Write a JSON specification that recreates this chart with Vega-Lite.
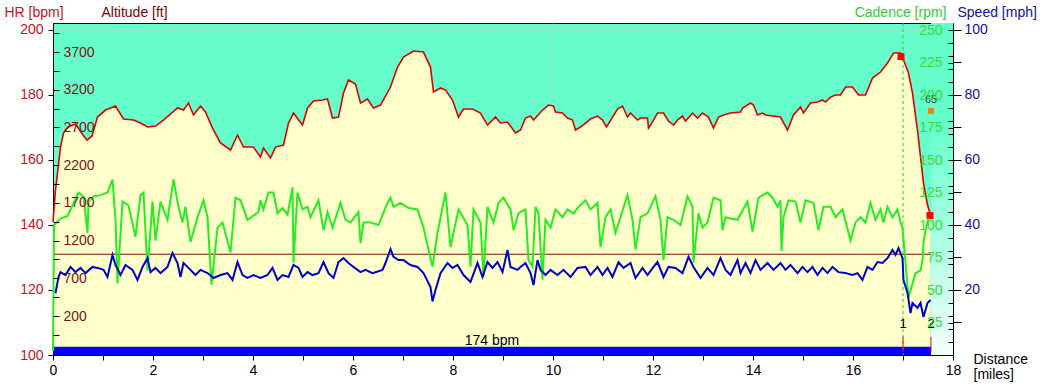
{
  "$schema": "https://vega.github.io/schema/vega-lite/v6.json",
  "width": 900,
  "height": 332,
  "autosize": "none",
  "padding": {"left": 53, "top": 23, "right": 91, "bottom": 31},
  "background": "#FFFFFF",
  "config": {
    "font": "Liberation Sans",
    "view": {"fill": "#66FFCC", "stroke": "#000000", "strokeWidth": 1},
    "axis": {
      "labelFont": "Liberation Sans", "titleFont": "Liberation Sans",
      "labelFontSize": 14, "titleFontSize": 14, "titleFontWeight": "normal",
      "tickColor": "#000000", "domainColor": "#000000", "labelColor": "#000000",
      "labelOverlap": false, "labelFlush": false, "grid": false
    }
  },
  "datasets": {
    "alt": [
      {"mile":0,"alt":1446},{"mile":0.05,"alt":1870},{"mile":0.15,"alt":2440},{"mile":0.21,"alt":2626},{"mile":0.3,"alt":2706},{"mile":0.45,"alt":2745},{"mile":0.6,"alt":2600},{"mile":0.68,"alt":2533},{"mile":0.78,"alt":2587},{"mile":0.89,"alt":2838},{"mile":1.05,"alt":2931},{"mile":1.25,"alt":2984},{"mile":1.41,"alt":2812},{"mile":1.61,"alt":2798},{"mile":1.75,"alt":2759},{"mile":1.89,"alt":2706},{"mile":2.05,"alt":2719},{"mile":2.21,"alt":2798},{"mile":2.49,"alt":2958},{"mile":2.61,"alt":2931},{"mile":2.71,"alt":3024},{"mile":2.81,"alt":2865},{"mile":2.95,"alt":2984},{"mile":3.05,"alt":2905},{"mile":3.19,"alt":2692},{"mile":3.35,"alt":2494},{"mile":3.55,"alt":2401},{"mile":3.69,"alt":2600},{"mile":3.81,"alt":2440},{"mile":4.01,"alt":2440},{"mile":4.15,"alt":2308},{"mile":4.21,"alt":2427},{"mile":4.35,"alt":2295},{"mile":4.45,"alt":2440},{"mile":4.61,"alt":2467},{"mile":4.71,"alt":2759},{"mile":4.81,"alt":2891},{"mile":4.99,"alt":2732},{"mile":5.09,"alt":2958},{"mile":5.21,"alt":3050},{"mile":5.39,"alt":3064},{"mile":5.49,"alt":3077},{"mile":5.59,"alt":2825},{"mile":5.71,"alt":2838},{"mile":5.81,"alt":3156},{"mile":5.91,"alt":3329},{"mile":6.05,"alt":3276},{"mile":6.15,"alt":3024},{"mile":6.29,"alt":3077},{"mile":6.41,"alt":2958},{"mile":6.55,"alt":2997},{"mile":6.75,"alt":3236},{"mile":6.89,"alt":3501},{"mile":7.01,"alt":3634},{"mile":7.21,"alt":3713},{"mile":7.41,"alt":3700},{"mile":7.55,"alt":3501},{"mile":7.61,"alt":3170},{"mile":7.75,"alt":3223},{"mile":7.85,"alt":3196},{"mile":7.99,"alt":3064},{"mile":8.11,"alt":2838},{"mile":8.21,"alt":2944},{"mile":8.39,"alt":2944},{"mile":8.55,"alt":2891},{"mile":8.69,"alt":2732},{"mile":8.85,"alt":2838},{"mile":8.95,"alt":2759},{"mile":9.09,"alt":2772},{"mile":9.25,"alt":2626},{"mile":9.35,"alt":2666},{"mile":9.45,"alt":2825},{"mile":9.55,"alt":2851},{"mile":9.61,"alt":2798},{"mile":9.79,"alt":2931},{"mile":9.91,"alt":2997},{"mile":10.01,"alt":2984},{"mile":10.05,"alt":2905},{"mile":10.19,"alt":2891},{"mile":10.29,"alt":2825},{"mile":10.39,"alt":2798},{"mile":10.45,"alt":2666},{"mile":10.55,"alt":2706},{"mile":10.75,"alt":2812},{"mile":10.89,"alt":2851},{"mile":10.99,"alt":2798},{"mile":11.07,"alt":2706},{"mile":11.29,"alt":2944},{"mile":11.39,"alt":2984},{"mile":11.49,"alt":2838},{"mile":11.55,"alt":2891},{"mile":11.69,"alt":2798},{"mile":11.75,"alt":2825},{"mile":11.89,"alt":2825},{"mile":11.91,"alt":2692},{"mile":12.01,"alt":2798},{"mile":12.09,"alt":2891},{"mile":12.21,"alt":2891},{"mile":12.31,"alt":2785},{"mile":12.41,"alt":2732},{"mile":12.49,"alt":2798},{"mile":12.59,"alt":2851},{"mile":12.65,"alt":2785},{"mile":12.79,"alt":2891},{"mile":12.89,"alt":2825},{"mile":12.99,"alt":2891},{"mile":13.11,"alt":2838},{"mile":13.21,"alt":2692},{"mile":13.31,"alt":2838},{"mile":13.41,"alt":2865},{"mile":13.55,"alt":2891},{"mile":13.75,"alt":2905},{"mile":13.79,"alt":2958},{"mile":13.95,"alt":3024},{"mile":14.01,"alt":2997},{"mile":14.09,"alt":2865},{"mile":14.19,"alt":2891},{"mile":14.25,"alt":2865},{"mile":14.55,"alt":2838},{"mile":14.69,"alt":2666},{"mile":14.81,"alt":2865},{"mile":14.95,"alt":2971},{"mile":15.01,"alt":2891},{"mile":15.15,"alt":3024},{"mile":15.29,"alt":3037},{"mile":15.39,"alt":3064},{"mile":15.45,"alt":3037},{"mile":15.55,"alt":3103},{"mile":15.65,"alt":3130},{"mile":15.75,"alt":3130},{"mile":15.85,"alt":3236},{"mile":15.99,"alt":3236},{"mile":16.11,"alt":3130},{"mile":16.25,"alt":3130},{"mile":16.39,"alt":3355},{"mile":16.55,"alt":3435},{"mile":16.69,"alt":3554},{"mile":16.81,"alt":3687},{"mile":16.95,"alt":3687},{"mile":17.05,"alt":3528},{"mile":17.11,"alt":3422},{"mile":17.19,"alt":3156},{"mile":17.29,"alt":2666},{"mile":17.35,"alt":2308},{"mile":17.41,"alt":1963},{"mile":17.49,"alt":1672},{"mile":17.55,"alt":1539}
    ],
    "cad": [
      {"mile":0,"cad":3},{"mile":0.02,"cad":100},{"mile":0.15,"cad":105},{"mile":0.29,"cad":107},{"mile":0.51,"cad":125},{"mile":0.61,"cad":122},{"mile":0.69,"cad":94},{"mile":0.71,"cad":118},{"mile":0.81,"cad":122},{"mile":0.95,"cad":123},{"mile":1.09,"cad":125},{"mile":1.19,"cad":135},{"mile":1.25,"cad":104},{"mile":1.29,"cad":55},{"mile":1.39,"cad":118},{"mile":1.51,"cad":115},{"mile":1.65,"cad":91},{"mile":1.75,"cad":123},{"mile":1.81,"cad":125},{"mile":1.89,"cad":65},{"mile":1.99,"cad":118},{"mile":2.05,"cad":88},{"mile":2.15,"cad":118},{"mile":2.29,"cad":104},{"mile":2.41,"cad":135},{"mile":2.51,"cad":114},{"mile":2.59,"cad":102},{"mile":2.65,"cad":114},{"mile":2.75,"cad":87},{"mile":2.89,"cad":106},{"mile":3.01,"cad":119},{"mile":3.09,"cad":106},{"mile":3.17,"cad":54},{"mile":3.29,"cad":98},{"mile":3.39,"cad":102},{"mile":3.55,"cad":79},{"mile":3.65,"cad":121},{"mile":3.75,"cad":119},{"mile":3.89,"cad":104},{"mile":4.11,"cad":110},{"mile":4.15,"cad":119},{"mile":4.21,"cad":112},{"mile":4.31,"cad":125},{"mile":4.41,"cad":125},{"mile":4.49,"cad":109},{"mile":4.59,"cad":113},{"mile":4.69,"cad":108},{"mile":4.79,"cad":129},{"mile":4.81,"cad":71},{"mile":4.89,"cad":125},{"mile":4.99,"cad":112},{"mile":5.09,"cad":114},{"mile":5.15,"cad":106},{"mile":5.31,"cad":119},{"mile":5.41,"cad":96},{"mile":5.49,"cad":110},{"mile":5.59,"cad":98},{"mile":5.75,"cad":117},{"mile":5.85,"cad":104},{"mile":5.95,"cad":102},{"mile":6.11,"cad":110},{"mile":6.15,"cad":86},{"mile":6.21,"cad":102},{"mile":6.35,"cad":102},{"mile":6.51,"cad":100},{"mile":6.69,"cad":117},{"mile":6.75,"cad":121},{"mile":6.81,"cad":114},{"mile":6.95,"cad":117},{"mile":7.11,"cad":113},{"mile":7.29,"cad":112},{"mile":7.41,"cad":98},{"mile":7.51,"cad":81},{"mile":7.59,"cad":68},{"mile":7.69,"cad":94},{"mile":7.85,"cad":125},{"mile":7.95,"cad":83},{"mile":8.11,"cad":112},{"mile":8.29,"cad":100},{"mile":8.35,"cad":68},{"mile":8.41,"cad":112},{"mile":8.55,"cad":102},{"mile":8.61,"cad":60},{"mile":8.69,"cad":114},{"mile":8.81,"cad":102},{"mile":8.91,"cad":117},{"mile":9.01,"cad":121},{"mile":9.15,"cad":112},{"mile":9.21,"cad":96},{"mile":9.31,"cad":109},{"mile":9.35,"cad":110},{"mile":9.45,"cad":112},{"mile":9.51,"cad":73},{"mile":9.59,"cad":68},{"mile":9.65,"cad":114},{"mile":9.71,"cad":109},{"mile":9.79,"cad":58},{"mile":9.85,"cad":104},{"mile":9.95,"cad":98},{"mile":10.05,"cad":112},{"mile":10.19,"cad":106},{"mile":10.29,"cad":112},{"mile":10.41,"cad":109},{"mile":10.51,"cad":114},{"mile":10.65,"cad":119},{"mile":10.75,"cad":112},{"mile":10.89,"cad":117},{"mile":10.95,"cad":83},{"mile":11.05,"cad":106},{"mile":11.15,"cad":112},{"mile":11.25,"cad":94},{"mile":11.35,"cad":106},{"mile":11.49,"cad":123},{"mile":11.59,"cad":104},{"mile":11.65,"cad":81},{"mile":11.75,"cad":106},{"mile":11.89,"cad":109},{"mile":12.05,"cad":122},{"mile":12.15,"cad":104},{"mile":12.21,"cad":73},{"mile":12.29,"cad":106},{"mile":12.41,"cad":104},{"mile":12.55,"cad":100},{"mile":12.69,"cad":122},{"mile":12.79,"cad":114},{"mile":12.81,"cad":71},{"mile":12.91,"cad":109},{"mile":12.99,"cad":98},{"mile":13.09,"cad":102},{"mile":13.21,"cad":121},{"mile":13.35,"cad":119},{"mile":13.39,"cad":96},{"mile":13.45,"cad":106},{"mile":13.55,"cad":105},{"mile":13.69,"cad":104},{"mile":13.89,"cad":118},{"mile":13.99,"cad":95},{"mile":14.11,"cad":121},{"mile":14.29,"cad":125},{"mile":14.39,"cad":121},{"mile":14.49,"cad":114},{"mile":14.55,"cad":119},{"mile":14.57,"cad":80},{"mile":14.61,"cad":106},{"mile":14.71,"cad":119},{"mile":14.85,"cad":118},{"mile":14.95,"cad":102},{"mile":15.05,"cad":119},{"mile":15.21,"cad":117},{"mile":15.31,"cad":96},{"mile":15.41,"cad":114},{"mile":15.55,"cad":114},{"mile":15.65,"cad":106},{"mile":15.79,"cad":112},{"mile":15.95,"cad":88},{"mile":16.05,"cad":102},{"mile":16.15,"cad":106},{"mile":16.25,"cad":102},{"mile":16.35,"cad":117},{"mile":16.45,"cad":104},{"mile":16.55,"cad":112},{"mile":16.61,"cad":102},{"mile":16.69,"cad":114},{"mile":16.79,"cad":106},{"mile":16.89,"cad":112},{"mile":16.95,"cad":102},{"mile":16.99,"cad":98},{"mile":17.11,"cad":44},{"mile":17.19,"cad":55},{"mile":17.25,"cad":63},{"mile":17.35,"cad":65},{"mile":17.39,"cad":73},{"mile":17.41,"cad":86},{"mile":17.45,"cad":96},{"mile":17.51,"cad":105}
    ],
    "spd": [
      {"mile":0.05,"spd":19},{"mile":0.11,"spd":24},{"mile":0.15,"spd":25.5},{"mile":0.25,"spd":24.6},{"mile":0.35,"spd":27.1},{"mile":0.45,"spd":25.5},{"mile":0.55,"spd":26.8},{"mile":0.65,"spd":25.2},{"mile":0.79,"spd":27.1},{"mile":0.89,"spd":26.8},{"mile":1.01,"spd":26.2},{"mile":1.09,"spd":24},{"mile":1.19,"spd":30.8},{"mile":1.25,"spd":27.7},{"mile":1.35,"spd":24.6},{"mile":1.45,"spd":27.7},{"mile":1.59,"spd":26.2},{"mile":1.69,"spd":23.1},{"mile":1.79,"spd":27.1},{"mile":1.89,"spd":29.8},{"mile":1.95,"spd":25.5},{"mile":2.05,"spd":26.8},{"mile":2.15,"spd":25.2},{"mile":2.29,"spd":27.1},{"mile":2.39,"spd":31.4},{"mile":2.49,"spd":28.3},{"mile":2.55,"spd":24},{"mile":2.61,"spd":28.3},{"mile":2.71,"spd":26.8},{"mile":2.85,"spd":24.6},{"mile":2.95,"spd":26.2},{"mile":3.09,"spd":25.2},{"mile":3.21,"spd":23.7},{"mile":3.35,"spd":24.6},{"mile":3.49,"spd":25.2},{"mile":3.59,"spd":23.1},{"mile":3.69,"spd":28.6},{"mile":3.79,"spd":24.6},{"mile":3.89,"spd":23.7},{"mile":4.01,"spd":24.6},{"mile":4.15,"spd":23.7},{"mile":4.29,"spd":24.6},{"mile":4.39,"spd":26.8},{"mile":4.49,"spd":23.1},{"mile":4.59,"spd":24.6},{"mile":4.71,"spd":24},{"mile":4.81,"spd":27.7},{"mile":4.91,"spd":26.8},{"mile":4.99,"spd":24},{"mile":5.09,"spd":25.5},{"mile":5.19,"spd":24.6},{"mile":5.31,"spd":25.2},{"mile":5.41,"spd":28.6},{"mile":5.51,"spd":25.2},{"mile":5.61,"spd":23.7},{"mile":5.71,"spd":28.6},{"mile":5.81,"spd":29.8},{"mile":5.91,"spd":28.3},{"mile":6.01,"spd":27.1},{"mile":6.15,"spd":25.5},{"mile":6.25,"spd":26.2},{"mile":6.39,"spd":25.2},{"mile":6.59,"spd":26.2},{"mile":6.65,"spd":28.3},{"mile":6.75,"spd":32.6},{"mile":6.81,"spd":30.2},{"mile":6.91,"spd":29.2},{"mile":7.01,"spd":29.2},{"mile":7.15,"spd":27.7},{"mile":7.29,"spd":27.1},{"mile":7.41,"spd":25.2},{"mile":7.55,"spd":20.9},{"mile":7.59,"spd":16.5},{"mile":7.65,"spd":20},{"mile":7.75,"spd":25.2},{"mile":7.89,"spd":28.3},{"mile":7.99,"spd":26.8},{"mile":8.09,"spd":27.7},{"mile":8.21,"spd":24.6},{"mile":8.35,"spd":22.5},{"mile":8.49,"spd":28.3},{"mile":8.59,"spd":24},{"mile":8.69,"spd":28.6},{"mile":8.79,"spd":26.8},{"mile":8.89,"spd":28.6},{"mile":8.99,"spd":25.5},{"mile":9.09,"spd":32.3},{"mile":9.15,"spd":27.1},{"mile":9.29,"spd":26.2},{"mile":9.35,"spd":27.1},{"mile":9.45,"spd":28.3},{"mile":9.55,"spd":25.2},{"mile":9.61,"spd":21.5},{"mile":9.69,"spd":29.2},{"mile":9.75,"spd":26.2},{"mile":9.85,"spd":24.6},{"mile":9.95,"spd":26.2},{"mile":10.09,"spd":24.6},{"mile":10.21,"spd":26.2},{"mile":10.35,"spd":24},{"mile":10.49,"spd":26.8},{"mile":10.65,"spd":27.1},{"mile":10.75,"spd":24.6},{"mile":10.89,"spd":27.1},{"mile":10.99,"spd":24.6},{"mile":11.09,"spd":26.8},{"mile":11.19,"spd":24},{"mile":11.31,"spd":28.6},{"mile":11.41,"spd":26.8},{"mile":11.55,"spd":28.3},{"mile":11.65,"spd":23.7},{"mile":11.79,"spd":26.8},{"mile":11.89,"spd":24.6},{"mile":12.01,"spd":27.1},{"mile":12.09,"spd":28.6},{"mile":12.21,"spd":24},{"mile":12.31,"spd":27.1},{"mile":12.45,"spd":26.8},{"mile":12.59,"spd":25.2},{"mile":12.71,"spd":30.2},{"mile":12.81,"spd":27.1},{"mile":12.95,"spd":23.7},{"mile":13.09,"spd":26.8},{"mile":13.21,"spd":24.6},{"mile":13.35,"spd":29.8},{"mile":13.45,"spd":26.2},{"mile":13.55,"spd":24.6},{"mile":13.69,"spd":29.2},{"mile":13.75,"spd":25.2},{"mile":13.85,"spd":28.3},{"mile":13.95,"spd":25.2},{"mile":14.05,"spd":29.2},{"mile":14.15,"spd":26.2},{"mile":14.29,"spd":28.3},{"mile":14.41,"spd":26.2},{"mile":14.55,"spd":28.3},{"mile":14.65,"spd":26.2},{"mile":14.75,"spd":27.7},{"mile":14.89,"spd":25.2},{"mile":14.99,"spd":27.1},{"mile":15.09,"spd":25.5},{"mile":15.19,"spd":27.1},{"mile":15.29,"spd":24.6},{"mile":15.39,"spd":26.8},{"mile":15.49,"spd":25.2},{"mile":15.59,"spd":27.1},{"mile":15.71,"spd":25.5},{"mile":15.85,"spd":25.2},{"mile":15.99,"spd":24.6},{"mile":16.09,"spd":25.2},{"mile":16.19,"spd":23.1},{"mile":16.29,"spd":27.1},{"mile":16.39,"spd":26.2},{"mile":16.49,"spd":28.6},{"mile":16.59,"spd":28.3},{"mile":16.69,"spd":29.8},{"mile":16.79,"spd":32.3},{"mile":16.85,"spd":30.8},{"mile":16.91,"spd":32.9},{"mile":16.99,"spd":29.8},{"mile":17.01,"spd":23.1},{"mile":17.09,"spd":19.1},{"mile":17.15,"spd":12.9},{"mile":17.19,"spd":16},{"mile":17.29,"spd":14.5},{"mile":17.35,"spd":16},{"mile":17.41,"spd":11.7},{"mile":17.49,"spd":16},{"mile":17.55,"spd":16.9}
    ],
    "span": [{"mile": 0, "mile2": 17.56}],
    "tail": [{"mile": 17.56, "mile2": 18}],
    "zonelabel": [{"mile": 8.78, "text": "174 bpm"}],
    "laps": [{"mile": 17.0, "lap": "1"}, {"mile": 17.56, "lap": "2"}],
    "lapmarks": [{"mile": 16.96, "hr": 191.8}, {"mile": 17.54, "hr": 142.9}],
    "extra": [{"mile": 17.56, "hr": 175.1, "val": "65"}]
  },
  "encoding": {
    "x": {
      "field": "mile", "type": "quantitative",
      "scale": {"domain": [0, 18], "nice": false, "zero": false},
      "axis": {
        "values": [0,0.5,1,1.5,2,2.5,3,3.5,4,4.5,5,5.5,6,6.5,7,7.5,8,8.5,9,9.5,10,10.5,11,11.5,12,12.5,13,13.5,14,14.5,15,15.5,16,16.5,17,17.5,18],
        "format": "d",
        "labelExpr": "datum.value % 2 == 0 ? datum.label : ''",
        "tickSize": 5, "labelPadding": 3,
        "grid": true, "gridColor": "#C4C4C4", "gridDash": [3, 3],
        "gridOpacity": {"condition": {"test": "datum.value == 10", "value": 1}, "value": 0},
        "title": ["Distance", "[miles]"],
        "titleAlign": "left", "titleAnchor": "start", "titleX": 920, "titleY": -3,
        "titleBaseline": "top", "titleLineHeight": 15, "titleColor": "#000000"
      }
    }
  },
  "layer": [
    {
      "data": {"name": "tail"},
      "mark": {"type": "rect", "fill": {"gradient": "linear", "x1": 0, "y1": 0, "x2": 0, "y2": 1, "stops": [{"offset": 0, "color": "#66FFCC"}, {"offset": 0.3, "color": "#66FFCC"}, {"offset": 1, "color": "#F2FFFA"}]}},
      "encoding": {"x2": {"field": "mile2"}}
    },
    {
      "data": {"name": "alt"},
      "mark": {"type": "area", "color": "#FFFFCC", "opacity": 1, "line": {"color": "#DD0000", "strokeWidth": 1.6}},
      "encoding": {
        "y": {
          "field": "alt", "type": "quantitative",
          "scale": {"domain": [-317, 4085], "nice": false, "zero": false},
          "axis": {
            "orient": "right", "offset": -900, "zindex": 1,
            "values": [-50,200,450,700,950,1200,1450,1700,1950,2200,2450,2700,2950,3200,3450,3700,3950],
            "labelExpr": "(datum.value - 200) % 500 == 0 ? datum.label : ''",
            "format": "d", "tickSize": 6, "labelPadding": 4, "domain": false,
            "labelColor": "#7A1414",
            "title": "Altitude [ft]", "titleColor": "#800000", "titleAngle": 0,
            "titleAlign": "left", "titleBaseline": "alphabetic", "titleX": 48, "titleY": -7
          }
        },
        "y2": {"datum": -317}
      }
    },
    {
      "layer": [
        {
          "data": {"name": "span"},
          "mark": {"type": "rule", "color": "#701010", "strokeWidth": 1},
          "encoding": {
            "x2": {"field": "mile2"},
            "y": {
              "datum": 131, "type": "quantitative",
              "scale": {"domain": [100, 202.15], "nice": false, "zero": false},
              "axis": {
                "orient": "left",
                "values": [100,110,120,130,140,150,160,170,180,190,200],
                "labelExpr": "datum.value % 20 == 0 ? datum.label : ''",
                "format": "d", "tickSize": 5, "labelPadding": 5,
                "labelColor": "#CC1020",
                "grid": true, "gridColor": "#C4C4C4", "gridDash": [3, 3],
                "gridOpacity": {"condition": {"test": "datum.value % 20 == 0", "value": 1}, "value": 0},
                "title": "HR [bpm]", "titleColor": "#CC1020", "titleAngle": 0,
                "titleAlign": "left", "titleBaseline": "alphabetic", "titleX": -49, "titleY": -7
              }
            }
          }
        },
        {
          "data": {"name": "span"},
          "mark": {"type": "rect", "color": "#0000FF"},
          "encoding": {
            "x2": {"field": "mile2"},
            "y": {"datum": 100, "type": "quantitative"},
            "y2": {"datum": 102.5}
          }
        },
        {
          "data": {"name": "zonelabel"},
          "mark": {"type": "text", "fontSize": 14, "color": "#000000", "baseline": "alphabetic", "align": "center"},
          "encoding": {
            "y": {"datum": 103, "type": "quantitative"},
            "text": {"field": "text"}
          }
        },
        {
          "data": {"name": "laps"},
          "transform": [{"filter": "datum.lap == '1'"}],
          "mark": {"type": "rule", "color": "#33CC33", "strokeWidth": 1, "strokeDash": [3, 3]},
          "encoding": {}
        },
        {
          "data": {"name": "laps"},
          "mark": {"type": "rule", "color": "#FF0000", "strokeWidth": 1},
          "encoding": {
            "y": {"datum": 101, "type": "quantitative"},
            "y2": {"datum": 105.6}
          }
        },
        {
          "data": {"name": "laps"},
          "mark": {"type": "text", "fontSize": 13, "color": "#000000", "baseline": "alphabetic", "align": "center"},
          "encoding": {
            "y": {"datum": 108.3, "type": "quantitative"},
            "text": {"field": "lap"}
          }
        },
        {
          "data": {"name": "lapmarks"},
          "mark": {"type": "point", "shape": "square", "filled": true, "size": 49, "color": "#FF0000", "opacity": 1},
          "encoding": {"y": {"field": "hr", "type": "quantitative"}}
        },
        {
          "data": {"name": "extra"},
          "mark": {"type": "point", "shape": "square", "filled": true, "size": 36, "color": "#F08020", "opacity": 1},
          "encoding": {"y": {"field": "hr", "type": "quantitative"}}
        },
        {
          "data": {"name": "extra"},
          "mark": {"type": "text", "fontSize": 11, "color": "#333333", "baseline": "alphabetic", "align": "center", "dy": -8},
          "encoding": {"y": {"field": "hr", "type": "quantitative"}, "text": {"field": "val"}}
        }
      ]
    },
    {
      "data": {"name": "cad"},
      "mark": {"type": "line", "color": "#22EE22", "strokeWidth": 2},
      "encoding": {
        "y": {
          "field": "cad", "type": "quantitative",
          "scale": {"domain": [0, 255.4], "nice": false, "zero": false},
          "axis": {
            "orient": "left", "offset": -900, "zindex": 1,
            "values": [10,20,25,30,40,50,60,70,75,80,90,100,110,120,125,130,140,150,160,170,175,180,190,200,210,220,225,230,240,250],
            "labelExpr": "datum.value % 25 == 0 ? datum.label : ''",
            "format": "d", "tickSize": 5, "labelPadding": 6, "domain": false,
            "labelColor": "#33DD33",
            "title": "Cadence [rpm]", "titleColor": "#33CC33", "titleAngle": 0,
            "titleAlign": "right", "titleBaseline": "alphabetic", "titleX": -7, "titleY": -7
          }
        }
      }
    },
    {
      "data": {"name": "spd"},
      "mark": {"type": "line", "color": "#0000CC", "strokeWidth": 2},
      "encoding": {
        "y": {
          "field": "spd", "type": "quantitative",
          "scale": {"domain": [0, 102.15], "nice": false, "zero": false},
          "axis": {
            "orient": "right",
            "values": [10,20,30,40,50,60,70,80,90,100],
            "labelExpr": "datum.value % 20 == 0 ? datum.label : ''",
            "format": "d", "tickSize": 8, "labelPadding": 3, "domain": false,
            "labelColor": "#1010A0",
            "title": "Speed [mph]", "titleColor": "#1010A0", "titleAngle": 0,
            "titleAlign": "left", "titleBaseline": "alphabetic", "titleX": 4, "titleY": -7
          }
        }
      }
    }
  ],
  "resolve": {"scale": {"y": "independent"}, "axis": {"y": "independent"}}
}
